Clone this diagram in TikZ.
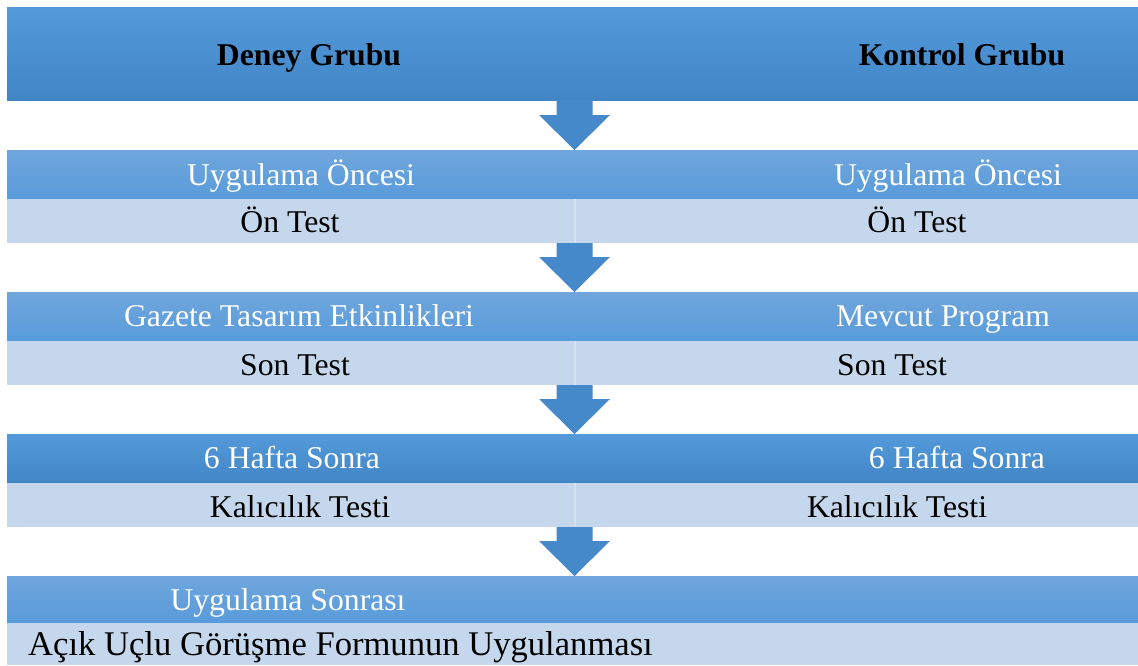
\documentclass[tikz,border=0pt]{standalone}
\usepackage{fontspec}
\setmainfont{Liberation Serif}
\usetikzlibrary{calc}

\definecolor{barTop}{HTML}{549ADB}
\definecolor{barBottom}{HTML}{4185C5}
\definecolor{stepTop}{HTML}{70A6DC}
\definecolor{stepBottom}{HTML}{589BDB}
\definecolor{cellFill}{HTML}{C5D7EC}
\definecolor{cellLine}{HTML}{D4E1F1}
\definecolor{arrowBlue}{HTML}{4689CA}

\newcommand{\flowarrow}[2]{
    \fill[arrowfill] ([xshift=-16pt]#1.south) -- ([xshift=-16pt,yshift=35pt]#2.north)
        -- ([xshift=-33.5pt,yshift=35pt]#2.north) -- ([xshift=2pt]#2.north)
        -- ([xshift=37.5pt,yshift=35pt]#2.north) -- ([xshift=20pt,yshift=35pt]#2.north)
        -- ([xshift=20pt]#1.south) -- cycle;
}

\begin{document}
\begin{tikzpicture}[
        x=1pt,
        y=-1pt,
        every node/.style={font=\fontsize{31.7}{38}\selectfont},
        band/.style={minimum width=1131pt, inner sep=0pt, outer sep=0pt},
        headband/.style={band, minimum height=93pt, top color=barTop, bottom color=barBottom},
        darkband/.style={band, minimum height=49pt, top color=stepTop, bottom color=stepBottom},
        deepband/.style={band, minimum height=49pt, top color=barTop, bottom color=barBottom},
        lightband/.style={band, minimum height=44pt, fill=cellFill},
        title/.style={anchor=base, font=\fontsize{31.7}{38}\selectfont\bfseries},
        upper/.style={anchor=base, text=white},
        lower/.style={anchor=base, text=black},
        divider/.style={draw=cellLine, line width=1.2pt},
        arrowfill/.style={fill=arrowBlue}
    ]
    \useasboundingbox[fill=white] (0,0) rectangle (1138,665);

    \node[headband] (groups) at (572.5,53.5) {};
    \node[darkband] (before) at (572.5,174.5) {};
    \node[lightband] (pretest) at (572.5,221) {};
    \node[darkband] (treatment) at (572.5,316.5) {};
    \node[lightband] (posttest) at (572.5,363) {};
    \node[deepband] (weeks) at (572.5,458.5) {};
    \node[lightband] (retention) at (572.5,505) {};
    \node[darkband, minimum height=47pt] (after) at (572.5,599.5) {};
    \node[lightband, minimum height=42pt] (interview) at (572.5,644) {};

    \draw[divider] ([xshift=2.5pt]pretest.north) -- ([xshift=2.5pt]pretest.south);
    \draw[divider] ([xshift=2.5pt]posttest.north) -- ([xshift=2.5pt]posttest.south);
    \draw[divider] ([xshift=2.5pt]retention.north) -- ([xshift=2.5pt]retention.south);

    \flowarrow{groups}{before}
    \flowarrow{pretest}{treatment}
    \flowarrow{posttest}{weeks}
    \flowarrow{retention}{after}

    \node[title] (deney) at (309,65) {Deney Grubu};
    \node[title] (kontrol) at (962,65) {Kontrol Grubu};

    \node[upper] (deneyonce) at (301,185) {Uygulama Öncesi};
    \node[upper] (kontrolonce) at (948,185) {Uygulama Öncesi};
    \node[lower] (deneyon) at (290,232.5) {Ön Test};
    \node[lower] (kontrolon) at (917,232.5) {Ön Test};

    \node[upper] (deneyprog) at (299,326.5) {Gazete Tasarım Etkinlikleri};
    \node[upper] (kontrolprog) at (943,326.5) {Mevcut Program};
    \node[lower] (deneyson) at (295,375) {Son Test};
    \node[lower] (kontrolson) at (892,375) {Son Test};

    \node[upper] (deneyhafta) at (292,468.5) {6 Hafta Sonra};
    \node[upper] (kontrolhafta) at (957,468.5) {6 Hafta Sonra};
    \node[lower] (deneykalici) at (300,517) {Kalıcılık Testi};
    \node[lower] (kontrolkalici) at (897,517) {Kalıcılık Testi};

    \node[upper] (sonrasi) at (288,610) {Uygulama Sonrası};
    \node[lower, anchor=base west, inner sep=0pt, font=\fontsize{34.6}{41}\selectfont] (gorusme) at (28,655) {Açık Uçlu Görüşme Formunun Uygulanması};
\end{tikzpicture}
\end{document}
